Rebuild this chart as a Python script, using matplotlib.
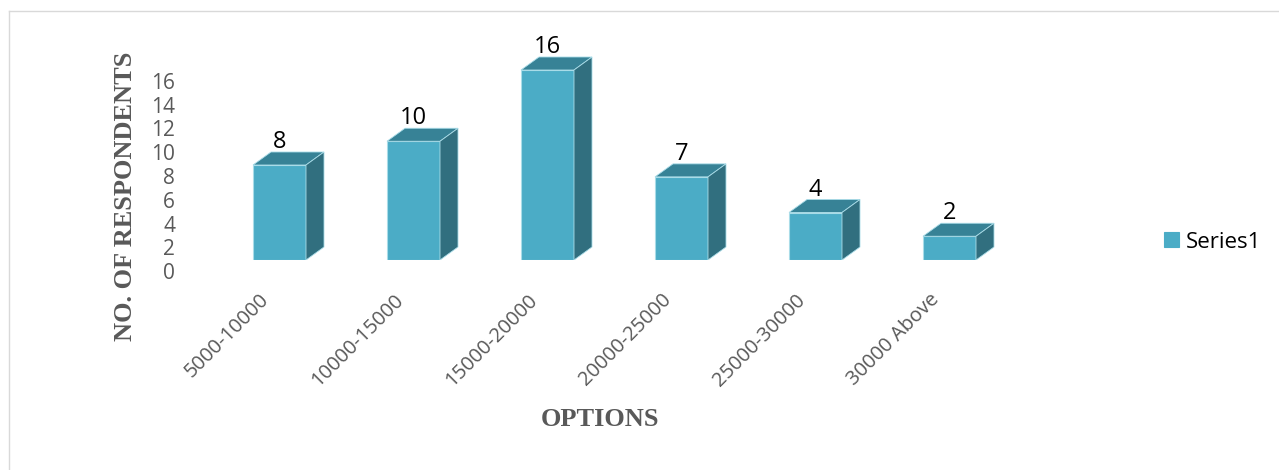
import matplotlib
matplotlib.use("Agg")
import matplotlib.pyplot as plt
from matplotlib.patches import Polygon
from matplotlib.lines import Line2D
from matplotlib.transforms import ScaledTranslation

# Data
categories = ["5000-10000", "10000-15000", "15000-20000",
              "20000-25000", "25000-30000", "30000 Above"]
respondents = [8, 10, 16, 7, 4, 2]
y_ticks = [0, 2, 4, 6, 8, 10, 12, 14, 16]
series_name = "Series1"

# Style
FRONT = "#4BACC6"
TOP = "#378296"
SIDE = "#316F7F"
EDGE = "#A9DCE8"
GREY = "#595959"

W, H, DPI = 1279, 470, 100
fig = plt.figure(figsize=(W / DPI, H / DPI), dpi=DPI)

# Plot area in pixels
L, R, B = 212.5, 1016.5, 260.0
PX_PER_UNIT = 11.875
YMAX = 18.5
T = B - YMAX * PX_PER_UNIT
ax = fig.add_axes([L / W, (H - B) / H, (R - L) / W, (B - T) / H])
ax.set_xlim(-0.5, len(categories) - 0.5)
ax.set_ylim(0, YMAX)
for s in ax.spines.values():
    s.set_visible(False)

px_per_cat = (R - L) / len(categories)
depth_x = 18 / px_per_cat          # depth of the 3-D box, in data units
depth_y = 13 / PX_PER_UNIT
bar_w = 53 / px_per_cat

x = list(range(len(categories)))
ax.bar(x, respondents, width=bar_w, color=FRONT, edgecolor=EDGE,
       linewidth=0.8, label=series_name, zorder=2)

for xi, v in zip(x, respondents):
    x0, x1 = xi - bar_w / 2, xi + bar_w / 2
    top = Polygon([(x0, v), (x1, v), (x1 + depth_x, v + depth_y),
                   (x0 + depth_x, v + depth_y)], closed=True,
                  facecolor=TOP, edgecolor=EDGE, linewidth=0.6, zorder=2)
    side = Polygon([(x1, 0), (x1 + depth_x, depth_y),
                    (x1 + depth_x, v + depth_y), (x1, v)], closed=True,
                   facecolor=SIDE, edgecolor=EDGE, linewidth=0.6, zorder=2)
    ax.add_patch(top)
    ax.add_patch(side)
    ax.annotate(str(v), (xi, v), xytext=(0, 17 * 72 / DPI),
                textcoords="offset points", ha="center", va="baseline",
                fontsize=17, family="Open Sans", color="black",
                annotation_clip=False)

# Value axis
ax.set_yticks(y_ticks)
ax.set_yticklabels([str(t) for t in y_ticks])
ax.tick_params(axis="y", length=0, pad=37.5 * 72 / DPI, labelsize=15,
               labelcolor=GREY)
for lbl in ax.get_yticklabels():
    lbl.set_family("Open Sans")
    lbl.set_transform(lbl.get_transform()
                      + ScaledTranslation(0, -11 / DPI, fig.dpi_scale_trans))

# Category axis
ax.set_xticks(x)
ax.set_xticklabels(categories, rotation=45, ha="right", va="top")
ax.tick_params(axis="x", length=0, pad=30 * 72 / DPI, labelsize=14.5,
               labelcolor=GREY)
for lbl in ax.get_xticklabels():
    lbl.set_family("Open Sans")
    lbl.set_transform(lbl.get_transform()
                      + ScaledTranslation(-6 / DPI, 0, fig.dpi_scale_trans))

# Axis titles
fig.text(125 / W, (H - 196) / H, "NO. OF RESPONDENTS", rotation=90,
         ha="center", va="center", fontsize=19, fontweight="bold",
         family="Liberation Serif", color=GREY)
fig.text(600 / W, (H - 420) / H, "OPTIONS", ha="center", va="center",
         fontsize=19, fontweight="bold", family="Liberation Serif", color=GREY)

# Legend
leg = fig.legend(loc="center left", bbox_to_anchor=(1164 / W, (H - 242) / H),
                 frameon=False, handlelength=0.68,
                 handleheight=0.68, handletextpad=0.32, borderpad=0,
                 borderaxespad=0, prop={"family": "Open Sans", "size": 16})
for h in leg.legend_handles:
    h.set_edgecolor(FRONT)

# Chart-area border
fig.add_artist(Line2D([8.5 / W, 8.5 / W], [0, (H - 10.5) / H],
                      transform=fig.transFigure, color="#D9D9D9", lw=1))
fig.add_artist(Line2D([8.5 / W, 1], [(H - 10.5) / H, (H - 10.5) / H],
                      transform=fig.transFigure, color="#D9D9D9", lw=1))

fig.savefig("out.png", dpi=DPI)
